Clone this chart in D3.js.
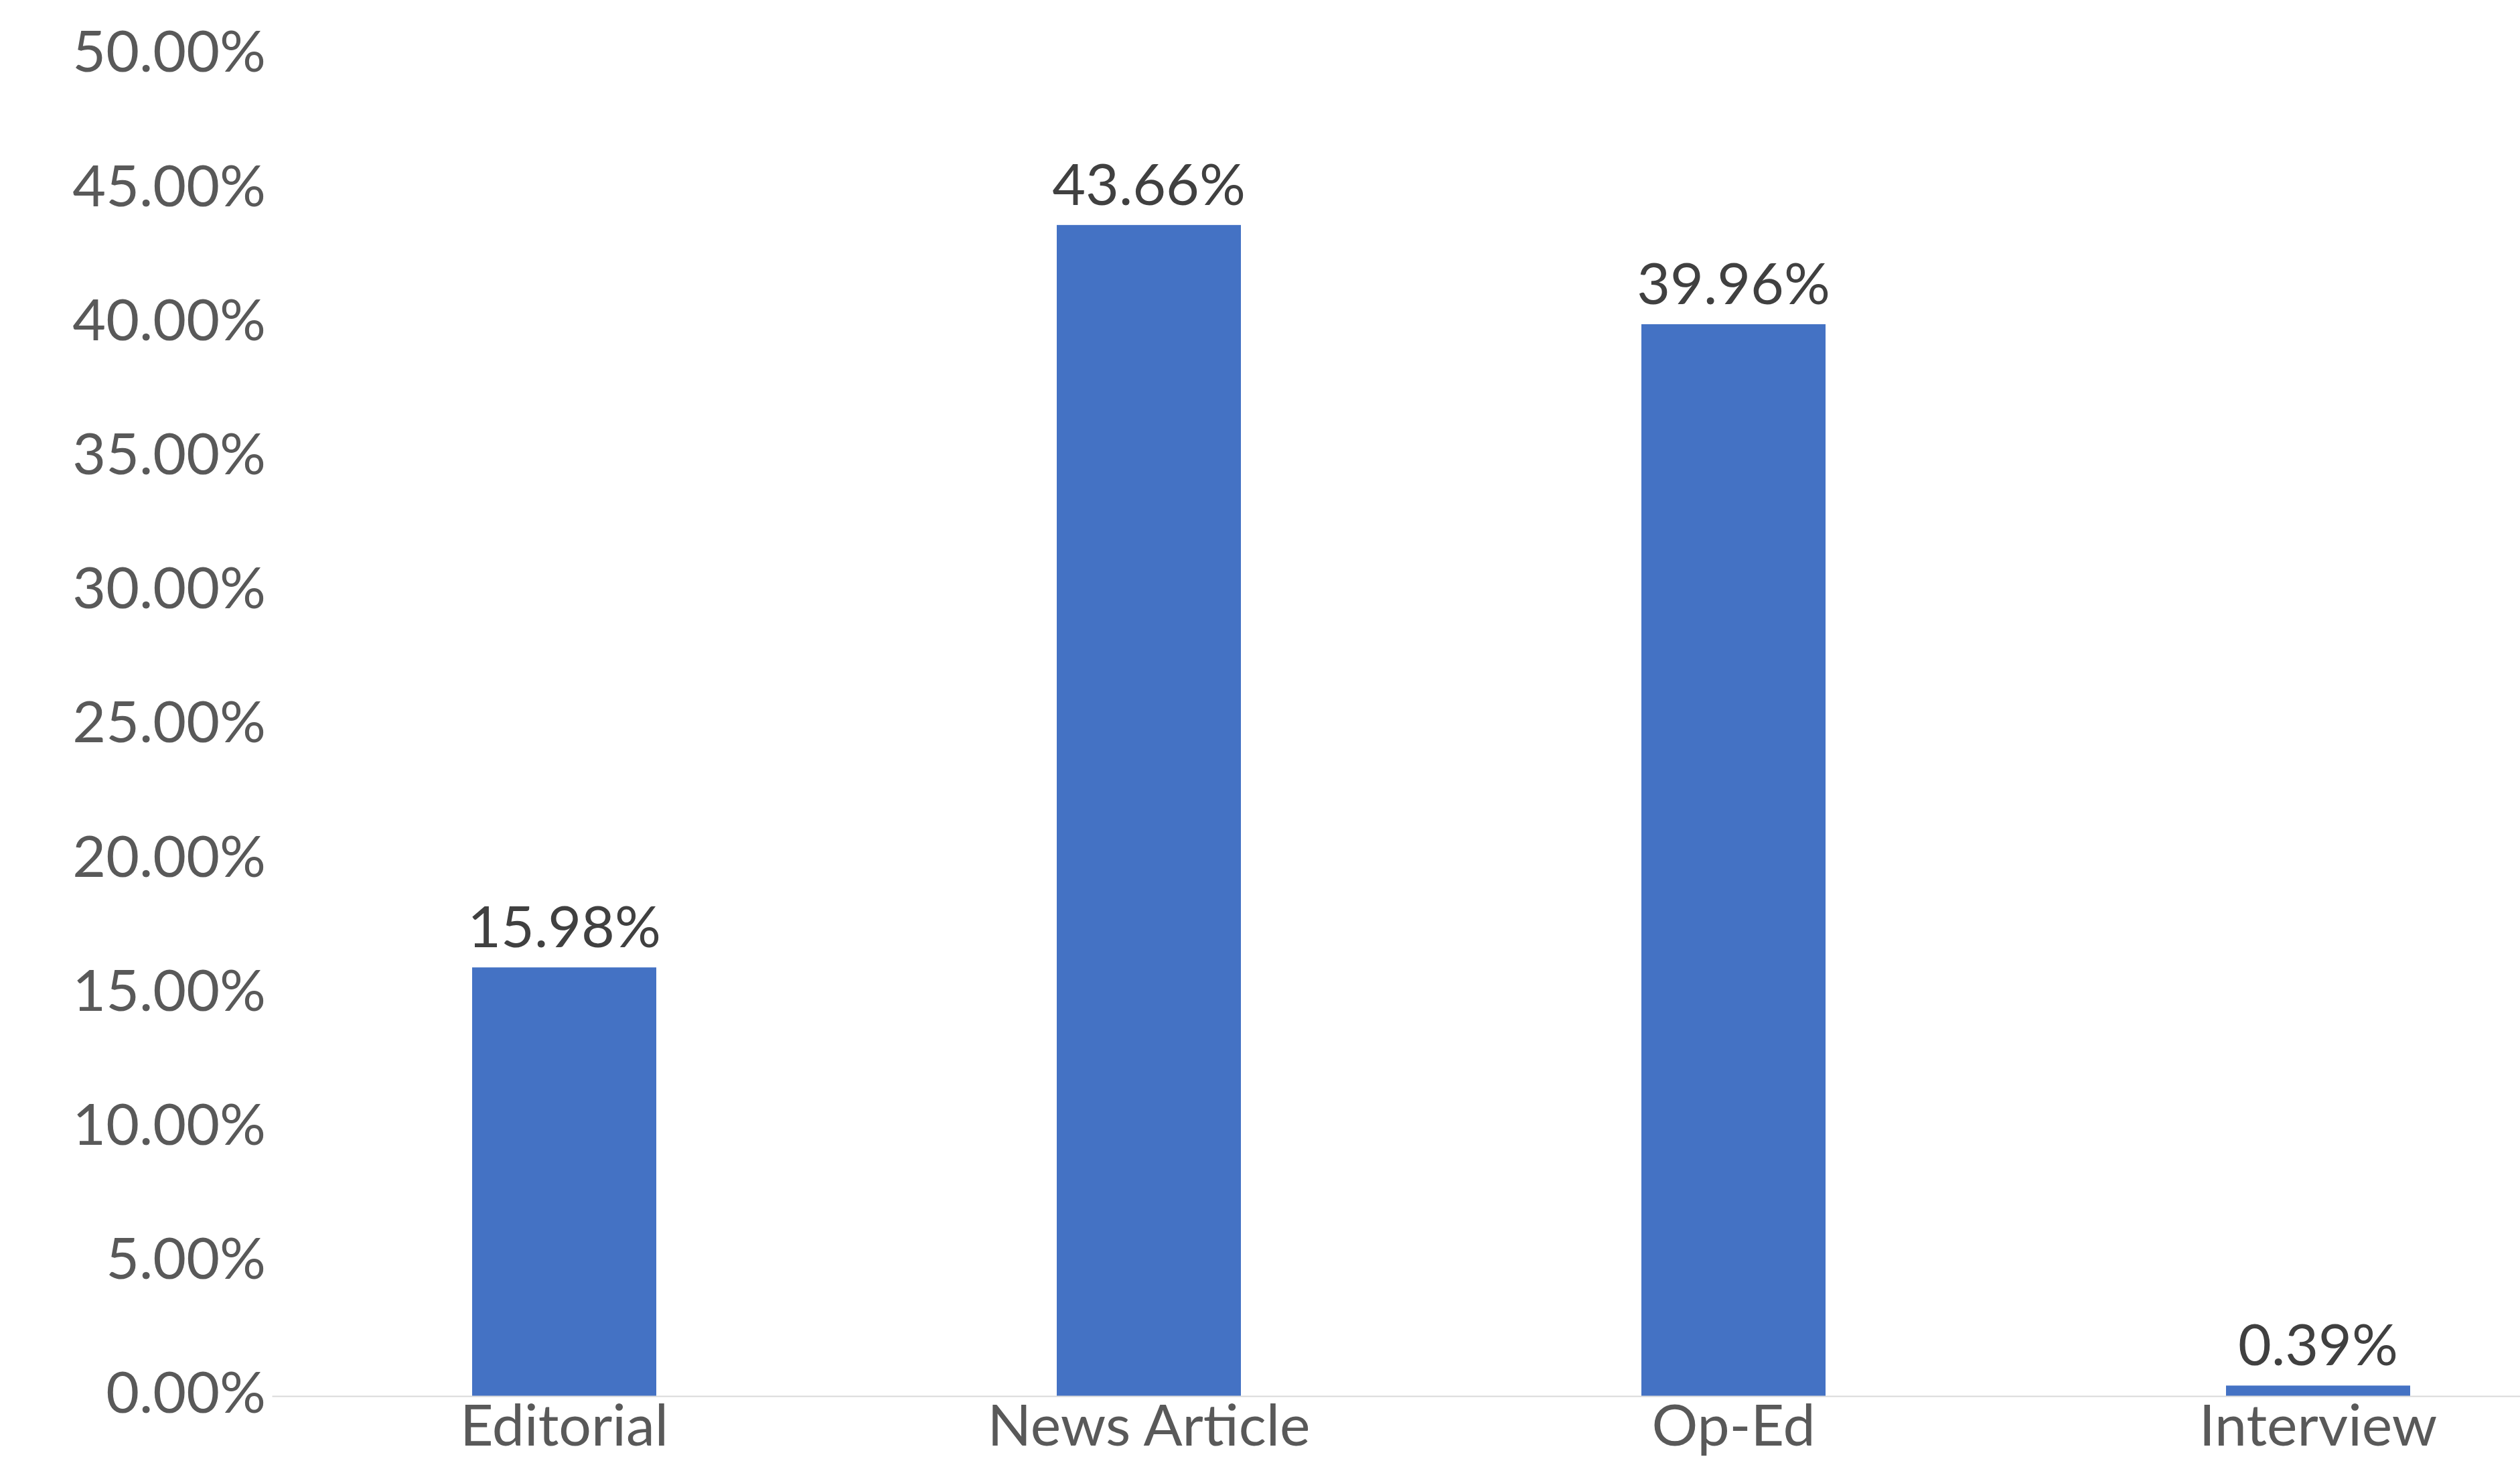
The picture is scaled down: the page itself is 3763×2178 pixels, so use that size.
<!DOCTYPE html>
<html>
<head>
<meta charset="utf-8">
<script src="https://cdn.jsdelivr.net/npm/d3@7"></script>
<style>
  html, body { margin: 0; padding: 0; background: #fff; }
  svg { display: block; font-family: Lato, "Open Sans", sans-serif; }
  .y-axis text { fill: #595959; }
  .x-axis text { fill: #595959; }
  .value-label { fill: #404040; }
</style>
</head>
<body>
<div id="chart"></div>
<script>
const categories = ['Editorial', 'News Article', 'Op-Ed', 'Interview'];
const shares = [0.1598, 0.4366, 0.3996, 0.0039];
const yTicks = [0, 0.05, 0.10, 0.15, 0.20, 0.25, 0.30, 0.35, 0.40, 0.45, 0.50];

const width = 3763;
const height = 2178;
const fontSize = 86;

const svg = d3.select('#chart').append('svg')
  .attr('width', width)
  .attr('height', height);

// plot area runs past the right edge, as in the original
const x = d3.scaleBand()
  .domain(categories)
  .range([406, 3898])
  .paddingInner(0.685)
  .paddingOuter(0.3425);

const y = d3.scaleLinear()
  .domain([0, 0.5])
  .range([2084, 82]);

const fmt = d3.format('.2%');

// y axis labels, no line
const yAxis = svg.append('g')
  .attr('class', 'y-axis')
  .attr('transform', 'translate(406,0)')
  .call(d3.axisLeft(y).tickValues(yTicks).tickFormat(fmt).tickSize(0).tickPadding(9))
  .attr('font-family', null)
  .attr('font-size', fontSize);
yAxis.select('.domain').remove();
yAxis.selectAll('text')
  .attr('dy', '0.29em');

// bars
svg.append('g')
  .selectAll('rect')
  .data(shares)
  .join('rect')
    .attr('x', (d, i) => x(categories[i]))
    .attr('y', d => y(d))
    .attr('width', x.bandwidth())
    .attr('height', d => y(0) - y(d))
    .attr('fill', '#4472C4');

// x axis with category labels
const xAxis = svg.append('g')
  .attr('class', 'x-axis')
  .attr('transform', `translate(0,${y(0)})`)
  .call(d3.axisBottom(x).tickSize(0).tickSizeOuter(0))
  .attr('font-family', null)
  .attr('font-size', fontSize);
xAxis.select('.domain')
  .attr('stroke', '#d9d9d9')
  .attr('stroke-width', 2);
xAxis.selectAll('text')
  .attr('y', 74)
  .attr('dy', 0);

// value labels above bars
svg.append('g')
  .selectAll('text')
  .data(shares)
  .join('text')
    .attr('class', 'value-label')
    .attr('x', (d, i) => x(categories[i]) + x.bandwidth() / 2)
    .attr('y', d => y(d) - 30)
    .attr('text-anchor', 'middle')
    .attr('font-size', fontSize)
    .text(d => fmt(d));
</script>
</body>
</html>
